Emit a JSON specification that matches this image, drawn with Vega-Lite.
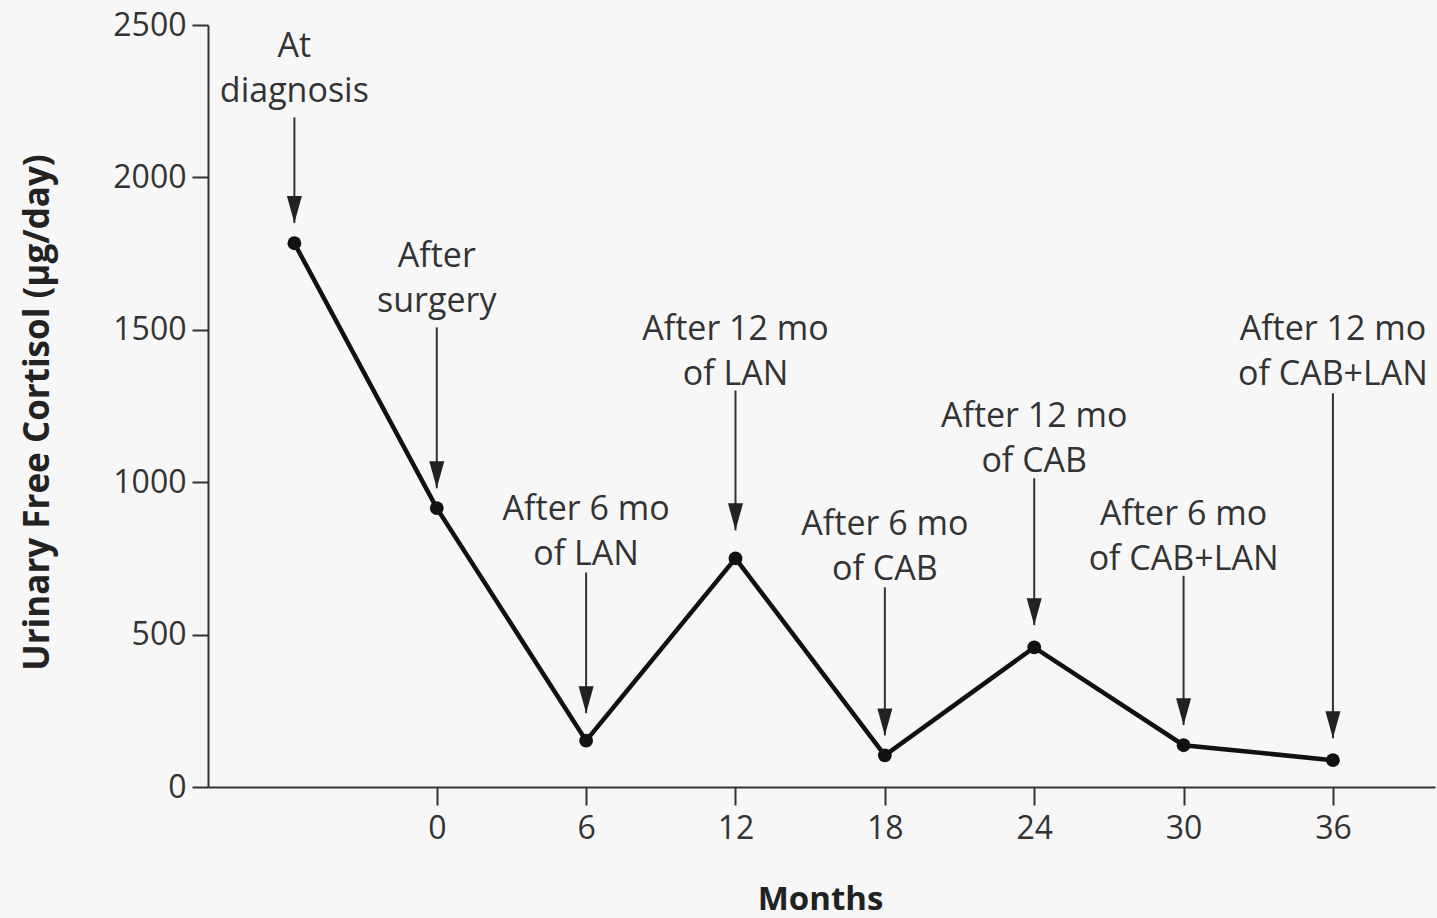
{
  "$schema": "https://vega.github.io/schema/vega-lite/v6.json",
  "width": 1227,
  "height": 762,
  "autosize": {"type": "none"},
  "padding": {"left": 208, "top": 25, "right": 2, "bottom": 131},
  "background": "#f7f7f7",
  "config": {"view": {"stroke": null}, "font": "Open Sans"},
  "datasets": {
    "series": [
      {"month": -5.72, "ufc": 1784},
      {"month": 0, "ufc": 915},
      {"month": 6, "ufc": 152},
      {"month": 12, "ufc": 750},
      {"month": 18, "ufc": 104},
      {"month": 24, "ufc": 458},
      {"month": 30, "ufc": 137},
      {"month": 36, "ufc": 88}
    ],
    "notes": [
      {"month": -5.72, "label": "At\ndiagnosis", "label_y": 2395, "arrow_from": 2197, "arrow_to": 1850},
      {"month": 0, "label": "After\nsurgery", "label_y": 1706, "arrow_from": 1508, "arrow_to": 980},
      {"month": 6, "label": "After 6 mo\nof LAN", "label_y": 875, "arrow_from": 704, "arrow_to": 242},
      {"month": 12, "label": "After 12 mo\nof LAN", "label_y": 1466, "arrow_from": 1301, "arrow_to": 842},
      {"month": 18, "label": "After 6 mo\nof CAB", "label_y": 826, "arrow_from": 655, "arrow_to": 169},
      {"month": 24, "label": "After 12 mo\nof CAB", "label_y": 1181, "arrow_from": 1013, "arrow_to": 531},
      {"month": 30, "label": "After 6 mo\nof CAB+LAN", "label_y": 859, "arrow_from": 693, "arrow_to": 203},
      {"month": 36, "label": "After 12 mo\nof CAB+LAN", "label_y": 1466, "arrow_from": 1292, "arrow_to": 160}
    ]
  },
  "layer": [
    {
      "data": {"name": "series"},
      "mark": {"type": "line", "color": "#111111", "strokeWidth": 4.5},
      "encoding": {
        "x": {
          "field": "month", "type": "quantitative",
          "scale": {"domain": [-9.19, 40.1], "nice": false, "zero": false},
          "axis": {
            "values": [0, 6, 12, 18, 24, 30, 36],
            "title": "Months",
            "grid": false,
            "domainColor": "#333333", "domainWidth": 2,
            "tickColor": "#333333", "tickWidth": 2, "tickSize": 18,
            "labelFontSize": 32, "labelColor": "#333333", "labelPadding": 8,
            "titleFontSize": 33, "titleFontWeight": "bold", "titleColor": "#222222",
            "titleX": 612, "titleY": 122, "titleBaseline": "alphabetic", "titleAlign": "center"
          }
        },
        "y": {
          "field": "ufc", "type": "quantitative",
          "scale": {"domain": [0, 2500], "nice": false},
          "axis": {
            "values": [0, 500, 1000, 1500, 2000, 2500],
            "format": "d",
            "title": "Urinary Free Cortisol (µg/day)",
            "grid": false,
            "domainColor": "#333333", "domainWidth": 2,
            "tickColor": "#333333", "tickWidth": 2, "tickSize": 16,
            "labelFontSize": 32, "labelColor": "#333333", "labelPadding": 6,
            "titleFontSize": 35, "titleFontWeight": "bold", "titleColor": "#222222",
            "titleX": -160, "titleY": 387, "titleBaseline": "alphabetic", "titleAlign": "center", "titleAngle": -90
          }
        }
      }
    },
    {
      "mark": {"type": "rule", "color": "#333333", "strokeWidth": 2},
      "encoding": {
        "x": {"datum": -9.19, "type": "quantitative"},
        "y": {"datum": 0, "type": "quantitative"},
        "y2": {"datum": -60}
      }
    },
    {
      "data": {"name": "series"},
      "mark": {"type": "point", "shape": "circle", "filled": true, "size": 190, "color": "#111111", "opacity": 1},
      "encoding": {
        "x": {"field": "month", "type": "quantitative"},
        "y": {"field": "ufc", "type": "quantitative"}
      }
    },
    {
      "data": {"name": "notes"},
      "mark": {"type": "rule", "color": "#333333", "strokeWidth": 2},
      "encoding": {
        "x": {"field": "month", "type": "quantitative"},
        "y": {"field": "arrow_from", "type": "quantitative"},
        "y2": {"field": "arrow_to"}
      }
    },
    {
      "data": {"name": "notes"},
      "mark": {"type": "point", "shape": "M-0.75,-2.7L0.75,-2.7L0,0Z", "filled": true, "size": 400, "color": "#222222", "opacity": 1},
      "encoding": {
        "x": {"field": "month", "type": "quantitative"},
        "y": {"field": "arrow_to", "type": "quantitative"}
      }
    },
    {
      "data": {"name": "notes"},
      "mark": {"type": "text", "fontSize": 34, "color": "#333333", "align": "center", "baseline": "alphabetic", "lineBreak": "\n", "lineHeight": 45},
      "encoding": {
        "x": {"field": "month", "type": "quantitative"},
        "y": {"field": "label_y", "type": "quantitative"},
        "text": {"field": "label"}
      }
    }
  ]
}
